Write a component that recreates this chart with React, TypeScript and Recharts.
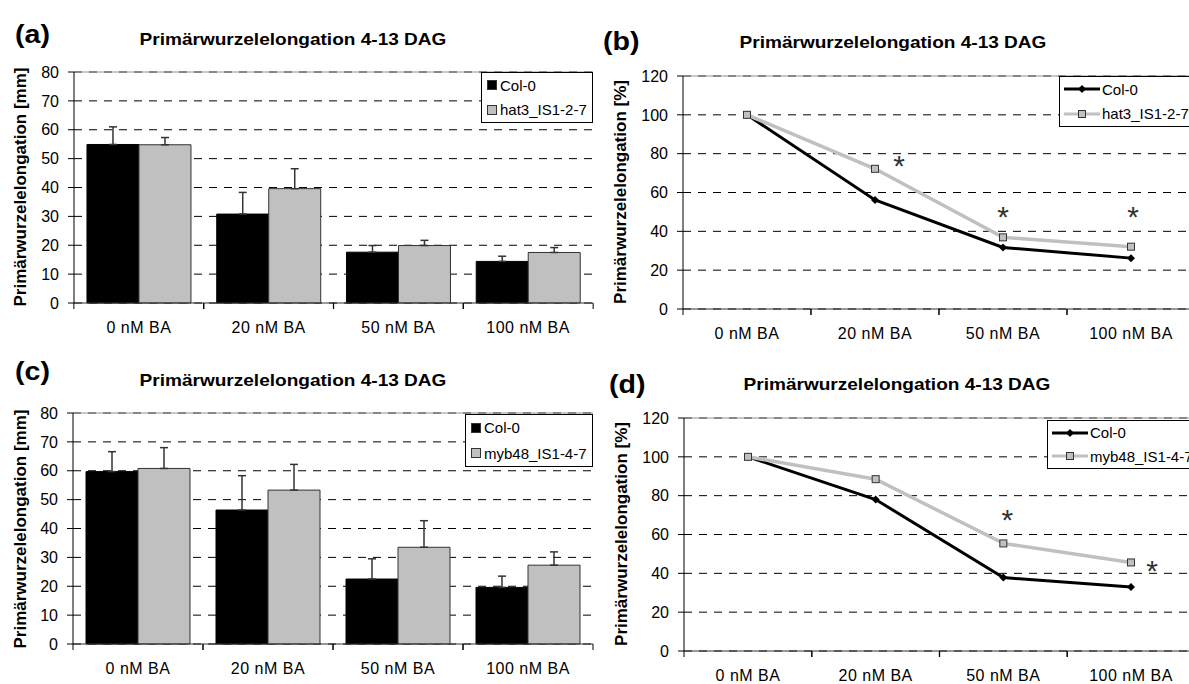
import React from "react";
import {
  Bar,
  BarChart,
  CartesianGrid,
  ErrorBar,
  Legend,
  Line,
  LineChart,
  ReferenceLine,
  XAxis,
  YAxis,
} from "recharts";

// Categories (BA concentration)
const categories = ["0 nM BA", "20 nM BA", "50 nM BA", "100 nM BA"];

// (a) hat3 experiment, elongation in mm (mean + upper error)
const colMeanA = [54.9, 30.8, 17.6, 14.4];
const colErrA = [6.1, 7.5, 2.3, 1.8];
const hatMeanA = [54.8, 39.6, 19.9, 17.5];
const hatErrA = [2.5, 6.9, 1.8, 1.7];

// (b) hat3 experiment, relative elongation in %
const colPctB = [100, 56.2, 31.7, 26.2];
const hatPctB = [100, 72.2, 36.9, 32.1];
const starsB = [null, 77, 51, 51];

// (c) myb48 experiment, elongation in mm
const colMeanC = [59.7, 46.4, 22.5, 19.6];
const colErrC = [6.9, 11.9, 7.0, 3.9];
const mybMeanC = [60.8, 53.3, 33.5, 27.3];
const mybErrC = [7.2, 8.9, 9.2, 4.6];

// (d) myb48 experiment, relative elongation in %
const colPctD = [100, 78, 37.8, 33];
const mybPctD = [100, 88.5, 55.4, 45.6];
const starsD = [null, null, 71, 44.8];

const ticksMm = [0, 10, 20, 30, 40, 50, 60, 70, 80];
const ticksPct = [0, 20, 40, 60, 80, 100, 120];

const TITLE = "Primärwurzelelongation 4-13 DAG";
const FONT = "'Liberation Sans', Arial, sans-serif";
const GRAY = "#c0c0c0";

const makeXTick = (half: number) => (props: any) => {
  const { x, y, payload } = props;
  return (
    <g>
      <line x1={x - half} x2={x - half} y1={y} y2={y + 6} stroke="#000" />
      <line x1={x + half} x2={x + half} y1={y} y2={y + 6} stroke="#000" />
      <text
        x={x}
        y={y + 24}
        dy="0.35em"
        textAnchor="middle"
        fontSize={16}
        letterSpacing={0.5}
        fill="#000"
        fontFamily={FONT}
      >
        {payload.value}
      </text>
    </g>
  );
};

const BarLegend = ({ mutant, w, h }: { mutant: string; w: number; h: number }) => (
  <div
    style={{
      width: w,
      height: h,
      boxSizing: "border-box",
      border: "1px solid #000",
      background: "#fff",
      fontFamily: FONT,
      fontSize: 15,
      paddingLeft: 5,
      display: "flex",
      flexDirection: "column",
      justifyContent: "space-around",
    }}
  >
    {[
      { name: "Col-0", fill: "#000" },
      { name: mutant, fill: GRAY },
    ].map((it) => (
      <div key={it.name} style={{ display: "flex", alignItems: "center", whiteSpace: "nowrap" }}>
        <span
          style={{
            width: 8,
            height: 8,
            background: it.fill,
            border: "1px solid #333",
            marginRight: 3,
            display: "inline-block",
          }}
        />
        {it.name}
      </div>
    ))}
  </div>
);

const LineLegend = ({ mutant, w, h }: { mutant: string; w: number; h: number }) => (
  <div
    style={{
      width: w,
      height: h,
      boxSizing: "border-box",
      border: "1px solid #000",
      background: "#fff",
      fontFamily: FONT,
      fontSize: 15,
      paddingLeft: 4,
      display: "flex",
      flexDirection: "column",
      justifyContent: "space-around",
    }}
  >
    {[
      { name: "Col-0", stroke: "#000", square: false },
      { name: mutant, stroke: GRAY, square: true },
    ].map((it) => (
      <div key={it.name} style={{ display: "flex", alignItems: "center", whiteSpace: "nowrap" }}>
        <svg width={36} height={10} style={{ marginRight: 2 }}>
          <line x1={0} x2={36} y1={5} y2={5} stroke={it.stroke} strokeWidth={3} />
          {it.square ? (
            <rect x={14.5} y={1.5} width={7} height={7} fill={GRAY} stroke="#333" />
          ) : (
            <polygon points="18,1 22,5 18,9 14,5" fill="#000" />
          )}
        </svg>
        {it.name}
      </div>
    ))}
  </div>
);

const Diamond = (props: any) => {
  const { cx, cy } = props;
  if (cx == null || cy == null) return <g />;
  return <polygon points={`${cx},${cy - 4} ${cx + 4},${cy} ${cx},${cy + 4} ${cx - 4},${cy}`} fill="#000" />;
};

const Square = (props: any) => {
  const { cx, cy } = props;
  if (cx == null || cy == null) return <g />;
  return <rect x={cx - 3.5} y={cy - 3.5} width={7} height={7} fill={GRAY} stroke="#333" strokeWidth={1} />;
};

const makeStar = (shift: number[]) => (props: any) => {
  const { cx, cy, value, index } = props;
  if (value == null || cy == null) return <g key={index} />;
  return (
    <text key={index} x={cx + shift[index]} y={cy + 17} textAnchor="middle" fontSize={30} fill="#333" fontFamily={FONT}>
      *
    </text>
  );
};

const Overlay = ({ letter, lx, ly, tx, ty, yl, ylx, yly }: any) => (
  <>
    <div
      style={{
        position: "absolute",
        left: lx,
        top: ly,
        transform: "translateY(-50%) scaleX(1.1)",
        transformOrigin: "left center",
        fontSize: 26,
        fontWeight: "bold",
        fontFamily: FONT,
      }}
    >
      {letter}
    </div>
    <div
      style={{
        position: "absolute",
        left: tx,
        top: ty,
        transform: "translate(-50%,-50%) scaleX(1.12)",
        fontSize: 17,
        fontWeight: "bold",
        fontFamily: FONT,
        whiteSpace: "nowrap",
      }}
    >
      {TITLE}
    </div>
    <div
      style={{
        position: "absolute",
        left: ylx,
        top: yly,
        transform: "translate(-50%,-50%) rotate(-90deg)",
        fontSize: 17,
        fontWeight: "bold",
        fontFamily: FONT,
        whiteSpace: "nowrap",
      }}
    >
      {yl}
    </div>
  </>
);

const BarPanel = ({ top, height, marginTop, marginLeft, col, colErr, mut, mutErr, mutant, legend }: any) => {
  const data = categories.map((name, i) => ({
    name,
    col: col[i],
    colErr: [0, colErr[i]],
    mut: mut[i],
    mutErr: [0, mutErr[i]],
  }));
  return (
    <div style={{ position: "absolute", left: 0, top }}>
      <BarChart
        width={600}
        height={height}
        data={data}
        margin={{ top: marginTop, right: 7, left: marginLeft, bottom: height - marginTop - 231 - 30 }}
        barCategoryGap="10%"
        barGap={0}
      >
        <CartesianGrid vertical={false} stroke="#000" strokeDasharray="8 7" />
        <ReferenceLine y={80} stroke="#909090" />
        <XAxis
          dataKey="name"
          height={30}
          interval={0}
          tickSize={0}
          tickMargin={0}
          tickLine={false}
          axisLine={{ stroke: "#333" }}
          tick={makeXTick(65)}
        />
        <YAxis
          width={60}
          domain={[0, 80]}
          ticks={ticksMm}
          interval={0}
          tickSize={6}
          tickMargin={9}
          axisLine={{ stroke: "#000" }}
          tickLine={{ stroke: "#000" }}
          tick={{ fontSize: 16, fill: "#000", fontFamily: FONT }}
        />
        <Bar dataKey="col" fill="#000" stroke="#000" isAnimationActive={false}>
          <ErrorBar dataKey="colErr" width={4} stroke="#333" strokeWidth={1.5} />
        </Bar>
        <Bar dataKey="mut" fill={GRAY} stroke="#333" strokeWidth={1} isAnimationActive={false}>
          <ErrorBar dataKey="mutErr" width={4} stroke="#333" strokeWidth={1.5} />
        </Bar>
        <Legend
          layout="vertical"
          verticalAlign="middle"
          align="center"
          wrapperStyle={{ left: legend.left, top: legend.top, width: legend.w, height: legend.h }}
          content={() => <BarLegend mutant={mutant} w={legend.w} h={legend.h} />}
        />
      </BarChart>
    </div>
  );
};

const LinePanel = ({ top, height, marginTop, marginLeft, col, mut, stars, starShift, mutant, legend }: any) => {
  const data = categories.map((name, i) => ({ name, col: col[i], mut: mut[i], star: stars[i] }));
  return (
    <div style={{ position: "absolute", left: 590, top }}>
      <LineChart
        width={605}
        height={height}
        data={data}
        margin={{ top: marginTop, right: 0, left: marginLeft, bottom: height - marginTop - 233 - 30 }}
      >
        <CartesianGrid vertical={false} stroke="#000" strokeDasharray="8 7" />
        <ReferenceLine y={120} stroke="#909090" />
        <XAxis
          dataKey="name"
          height={30}
          interval={0}
          tickSize={0}
          tickMargin={0}
          tickLine={false}
          padding={{ left: 64, right: 64 }}
          axisLine={{ stroke: "#333" }}
          tick={makeXTick(64)}
        />
        <YAxis
          width={60}
          domain={[0, 120]}
          ticks={ticksPct}
          interval={0}
          tickSize={6}
          tickMargin={9}
          axisLine={{ stroke: "#000" }}
          tickLine={{ stroke: "#000" }}
          tick={{ fontSize: 16, fill: "#000", fontFamily: FONT }}
        />
        <Line dataKey="col" stroke="#000" strokeWidth={3} dot={<Diamond />} isAnimationActive={false} />
        <Line dataKey="mut" stroke={GRAY} strokeWidth={3.5} dot={<Square />} isAnimationActive={false} />
        <Line dataKey="star" stroke="none" dot={makeStar(starShift)} activeDot={false} isAnimationActive={false} />
        <Legend
          layout="vertical"
          verticalAlign="middle"
          align="center"
          wrapperStyle={{ left: legend.left, top: legend.top, width: legend.w, height: legend.h }}
          content={() => <LineLegend mutant={mutant} w={legend.w} h={legend.h} />}
        />
      </LineChart>
    </div>
  );
};

export default function App() {
  return (
    <div
      style={{
        position: "absolute",
        left: 0,
        top: 0,
        width: 1189,
        height: 684,
        overflow: "hidden",
        background: "#fff",
        fontFamily: FONT,
      }}
    >
      <BarPanel
        top={0}
        height={350}
        marginTop={72}
        marginLeft={14}
        col={colMeanA}
        colErr={colErrA}
        mut={hatMeanA}
        mutErr={hatErrA}
        mutant="hat3_IS1-2-7"
        legend={{ left: 481, top: 72, w: 112, h: 51 }}
      />
      <LinePanel
        top={0}
        height={350}
        marginTop={76}
        marginLeft={33}
        col={colPctB}
        mut={hatPctB}
        stars={starsB}
        starShift={[0, 24, 0, 2]}
        mutant="hat3_IS1-2-7"
        legend={{ left: 469, top: 76, w: 140, h: 51 }}
      />
      <BarPanel
        top={340}
        height={344}
        marginTop={73}
        marginLeft={13}
        col={colMeanC}
        colErr={colErrC}
        mut={mybMeanC}
        mutErr={mybErrC}
        mutant="myb48_IS1-4-7"
        legend={{ left: 465, top: 74, w: 128, h: 53 }}
      />
      <LinePanel
        top={340}
        height={344}
        marginTop={78}
        marginLeft={34}
        col={colPctD}
        mut={mybPctD}
        stars={starsD}
        starShift={[0, 0, 4, 21]}
        mutant="myb48_IS1-4-7"
        legend={{ left: 457, top: 80, w: 160, h: 49 }}
      />
      <Overlay letter="(a)" lx={15} ly={34} tx={293} ty={40} yl="Primärwurzelelongation [mm]" ylx={21} yly={187} />
      <Overlay letter="(b)" lx={603} ly={41} tx={893} ty={43} yl="Primärwurzelelongation [%]" ylx={621} yly={192} />
      <Overlay letter="(c)" lx={15} ly={371} tx={293} ty={381} yl="Primärwurzelelongation [mm]" ylx={21} yly={529} />
      <Overlay letter="(d)" lx={609} ly={384} tx={897} ty={385} yl="Primärwurzelelongation [%]" ylx={622} yly={534} />
    </div>
  );
}
